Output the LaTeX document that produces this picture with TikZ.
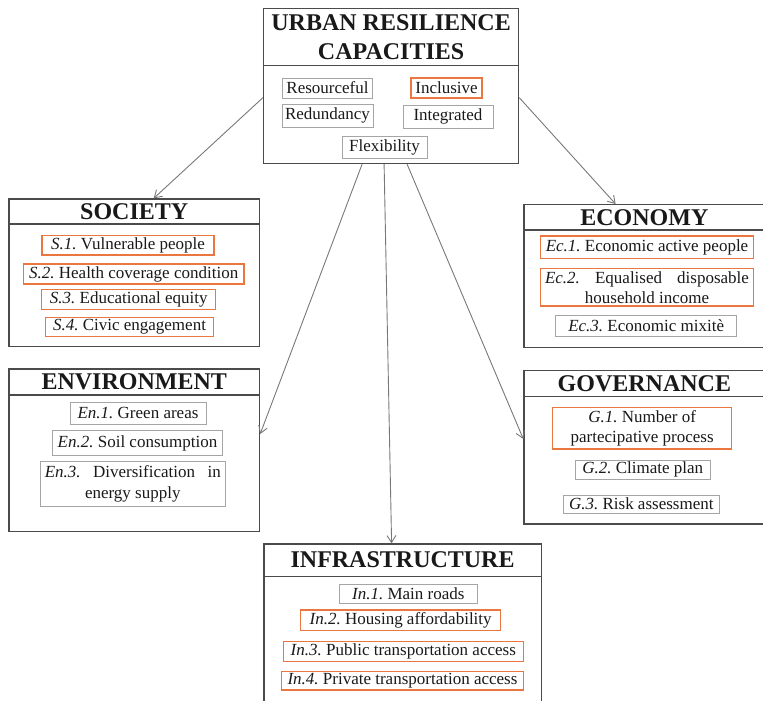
\documentclass[tikz,border=0pt]{standalone}
\usepackage{fontspec}
\setmainfont{Liberation Serif}
\usetikzlibrary{arrows.meta}
\definecolor{boxgray}{RGB}{75,75,75}
\definecolor{itemgray}{RGB}{165,165,165}
\definecolor{itemorange}{RGB}{233,119,63}
\definecolor{linkgray}{RGB}{120,120,120}
\newcommand{\lastcentred}{\leftskip=0pt plus .5fil\rightskip=0pt plus -.5fil\parfillskip=0pt plus 1fil\relax}
\frenchspacing

\begin{document}
\begin{tikzpicture}[x=1pt,y=-1pt,
  catbox/.style={draw=boxgray,line width=1.2pt,anchor=north west,inner sep=0pt},
  cathead/.style={draw=boxgray,line width=1.2pt,anchor=north,inner sep=0pt,font=\fontsize{24}{29}\selectfont\bfseries,text=black!90},
  itembox/.style={draw=itemgray,line width=0.9pt,inner xsep=3pt,inner ysep=1pt,font=\fontsize{17}{20}\selectfont,text=black!90},
  itemorange/.style={itembox,draw=itemorange,line width=1.3pt},
  link/.style={draw=linkgray,line width=0.9pt,-{Straight Barb[length=7pt,width=9pt]}}]
\useasboundingbox (0,0) rectangle (763,701);
\clip (0,0) rectangle (763,701);

\node[catbox,minimum width=255pt,minimum height=155pt] (urc) at (263,8) {};
\node[cathead,minimum width=255pt,minimum height=57pt,align=center] (urchead) at (urc.north) {URBAN RESILIENCE\\CAPACITIES};
\node[itembox,minimum width=90pt,minimum height=20pt] (resourceful) at (327.5,88) {Resourceful};
\node[itemorange,minimum width=71pt,minimum height=20pt] (inclusive) at (446.5,88) {Inclusive};
\node[itembox,minimum width=90pt,minimum height=23pt] (redundancy) at (327.5,115.5) {Redundancy};
\node[itembox,minimum width=90pt,minimum height=23pt] (integrated) at (448,116.5) {Integrated};
\node[itembox,minimum width=85pt,minimum height=22pt] (flexibility) at (384.5,147) {Flexibility};

\node[catbox,minimum width=250.7pt,minimum height=147.4pt] (society) at (8.3,198.3) {};
\node[cathead,minimum width=250.7pt,minimum height=25pt] (societyhead) at (society.north) {SOCIETY};
\node[itemorange,minimum width=172pt,minimum height=19.5pt] (s1) at (128,245.3) {\textit{S.1.} Vulnerable people};
\node[itemorange,minimum width=220.7pt,minimum height=20pt] (s2) at (133.7,274) {\textit{S.2.} Health coverage condition};
\node[itemorange,minimum width=174pt,minimum height=20pt] (s3) at (128.8,299.2) {\textit{S.3.} Educational equity};
\node[itemorange,minimum width=167.7pt,minimum height=19.4pt] (s4) at (129.5,327) {\textit{S.4.} Civic engagement};

\node[catbox,minimum width=241pt,minimum height=142.7pt] (economy) at (523.3,204) {};
\node[cathead,minimum width=241pt,minimum height=25.3pt] (economyhead) at (economy.north) {ECONOMY};
\node[itemorange,minimum width=212.7pt,minimum height=22.3pt] (ec1) at (647,247.2) {\textit{Ec.1.} Economic active people};
\node[itemorange,text width=204pt,align=justify,inner xsep=4.35pt,minimum height=37.7pt] (ec2) at (647,287.2) {\lastcentred\textit{Ec.2.} Equalised disposable\linebreak household income\par};
\node[itembox,minimum width=181pt,minimum height=21.7pt] (ec3) at (646.2,325.8) {\textit{Ec.3.} Economic mixitè};

\node[catbox,minimum width=250.7pt,minimum height=162.7pt] (environment) at (8.3,368.3) {};
\node[cathead,minimum width=250.7pt,minimum height=26pt] (environmenthead) at (environment.north) {ENVIRONMENT};
\node[itembox,minimum width=136pt,minimum height=22pt] (en1) at (138,413) {\textit{En.1.} Green areas};
\node[itembox,minimum width=170pt,minimum height=25pt] (en2) at (137.5,443) {\textit{En.2.} Soil consumption};
\node[itembox,text width=176pt,align=justify,inner xsep=4.15pt,minimum height=45pt,font=\fontsize{17}{21}\selectfont] (en3) at (132.8,484) {\lastcentred\textit{En.3.} Diversification in\linebreak energy supply\par};

\node[catbox,minimum width=241pt,minimum height=153.3pt] (governance) at (523.3,370) {};
\node[cathead,minimum width=241pt,minimum height=25.7pt] (governancehead) at (governance.north) {GOVERNANCE};
\node[itemorange,minimum width=179pt,minimum height=41.3pt,align=center] (g1) at (642.2,428.3) {\textit{G.1.} Number of\\partecipative process};
\node[itembox,minimum width=134.3pt,minimum height=19pt] (g2) at (642.8,469.5) {\textit{G.2.} Climate plan};
\node[itembox,minimum width=156pt,minimum height=18.3pt] (g3) at (641.3,504.2) {\textit{G.3.} Risk assessment};

\node[catbox,minimum width=277.4pt,minimum height=162pt] (infra) at (263.3,543.3) {};
\node[cathead,minimum width=277.4pt,minimum height=32.4pt] (infrahead) at (infra.north) {INFRASTRUCTURE};
\node[itembox,minimum width=138pt,minimum height=19pt] (in1) at (408.3,593.8) {\textit{In.1.} Main roads};
\node[itemorange,minimum width=200pt,minimum height=20.7pt] (in2) at (400.7,620.3) {\textit{In.2.} Housing affordability};
\node[itemorange,minimum width=240pt,minimum height=20pt] (in3) at (403.3,651.7) {\textit{In.3.} Public transportation access};
\node[itemorange,minimum width=241.6pt,minimum height=18.3pt] (in4) at (402.5,680.8) {\textit{In.4.} Private transportation access};

\draw[link] ([yshift=-11.5pt]urc.west) -- ([xshift=19.5pt]society.north);
\draw[link] ([yshift=-11.5pt]urc.east) -- ([xshift=-28.8pt]economy.north);
\draw[link] ([xshift=-29pt]urc.south) -- ([yshift=16.3pt]environment.east);
\draw[link] ([xshift=-7pt]urc.south) -- ([xshift=-11pt]infra.north);
\draw[link] ([xshift=16pt]urc.south) -- ([yshift=8.3pt]governance.west);
\end{tikzpicture}
\end{document}
